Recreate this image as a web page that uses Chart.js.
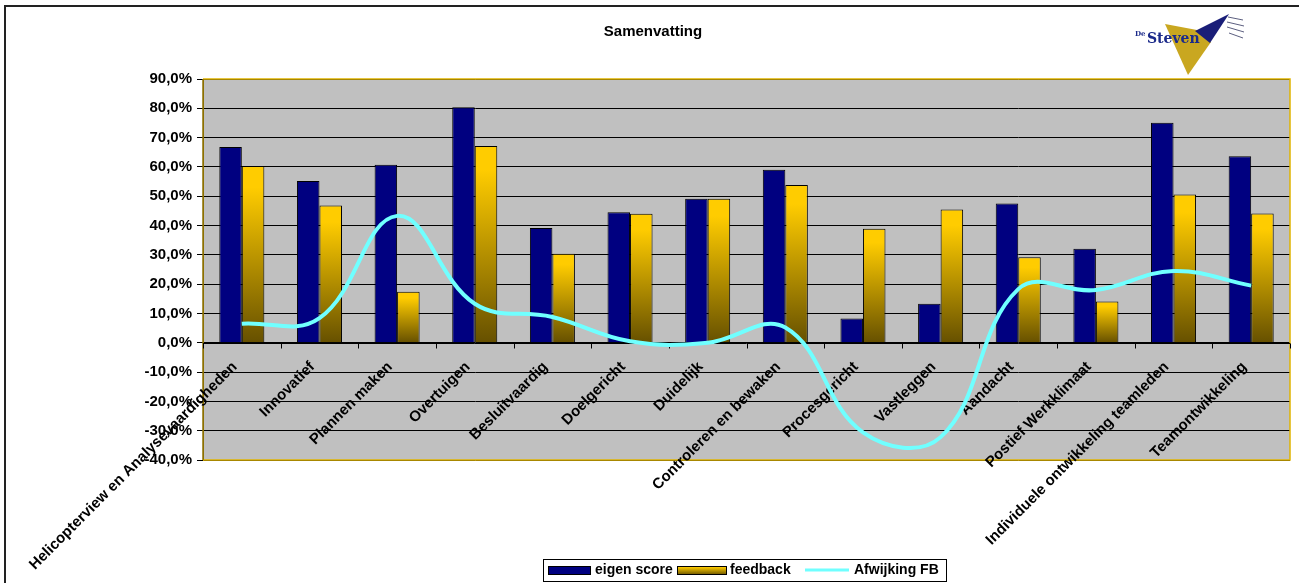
<!DOCTYPE html>
<html>
<head>
<meta charset="utf-8">
<title>Samenvatting</title>
<script src="https://cdn.jsdelivr.net/npm/chart.js@4/dist/chart.umd.min.js"></script>
<style>
  html, body { margin: 0; padding: 0; background: #fff; }
  canvas { display: block; }
</style>
</head>
<body>
<canvas id="chart" width="1299" height="583"></canvas>
<script>
"use strict";

// ---- data (percentages) ----
const categories = [
  "Helicopterview en Analysevaardigheden",
  "Innovatief",
  "Plannen maken",
  "Overtuigen",
  "Besluitvaardig",
  "Doelgericht",
  "Duidelijk",
  "Controleren en bewaken",
  "Procesgericht",
  "Vastleggen",
  "Aandacht",
  "Postief Werkklimaat",
  "Individuele ontwikkeling teamleden",
  "Teamontwikkeling",
];
const eigenScore = [66.8, 55.2, 60.7, 80.4, 39.2, 44.5, 49.1, 59.0, 8.3, 13.3, 47.5, 32.1, 75.1, 63.6];
const feedback   = [60.3, 46.8, 17.4, 67.1, 30.4, 44.0, 49.1, 53.8, 38.9, 45.5, 29.2, 14.1, 50.6, 44.1];
const afwijking  = [6.5, 8.4, 43.3, 13.3, 8.8, 0.5, 0.0, 5.2, -30.6, -32.2, 18.3, 18.0, 24.5, 19.5];

const seriesNames = ["eigen score", "feedback", "Afwijking FB"];
const Y_MIN = -40;
const Y_MAX = 90;
const Y_STEP = 10;

// ---- styling ----
const FONT = "'Liberation Sans', Arial, sans-serif";
const NAVY = "#000080";
const CYAN = "#70FFFF";
const PLOT_BG = "#C0C0C0";
const GOLD_EDGE = "#E0B400";
const OLIVE_EDGE = "#8C7000";

const fmtPct = (v) => v.toFixed(1).replace(".", ",") + "%";

function goldGradient(ctx, top, bottom) {
  if (!Number.isFinite(top) || !Number.isFinite(bottom) || top === bottom) return "#FFCC00";
  const g = ctx.createLinearGradient(0, top, 0, bottom);
  g.addColorStop(0, "#FFCC00");
  g.addColorStop(0.12, "#FFCC00");
  g.addColorStop(1, "#665000");
  return g;
}

// background, frame, title, plot fill
const backdrop = {
  id: "backdrop",
  beforeDraw(chart) {
    const { ctx, chartArea: a } = chart;
    ctx.save();
    ctx.fillStyle = "#fff";
    ctx.fillRect(0, 0, chart.width, chart.height);
    ctx.strokeStyle = "#222";
    ctx.lineWidth = 2;
    ctx.strokeRect(5, 6, chart.width + 20, chart.height + 20);

    ctx.fillStyle = "#000";
    ctx.font = `bold 15px ${FONT}`;
    ctx.textAlign = "center";
    ctx.textBaseline = "middle";
    ctx.fillText("Samenvatting", 653, 32);

    ctx.fillStyle = PLOT_BG;
    ctx.fillRect(a.left, a.top, a.width, a.height);
    ctx.restore();
  },
};

// plot border, category ticks on the 0 line, rotated category labels
const axisDecor = {
  id: "axisDecor",
  beforeDatasetsDraw(chart) {
    const { ctx, chartArea: a } = chart;
    const xs = chart.scales.x;
    const ys = chart.scales.y;
    const y0 = Math.round(ys.getPixelForValue(0)) + 0.5;
    ctx.save();

    ctx.lineWidth = 1.5;
    ctx.strokeStyle = GOLD_EDGE;
    ctx.beginPath();
    ctx.moveTo(a.left, a.top);
    ctx.lineTo(a.right, a.top);
    ctx.lineTo(a.right, a.bottom);
    ctx.lineTo(a.left, a.bottom);
    ctx.stroke();
    ctx.strokeStyle = OLIVE_EDGE;
    ctx.beginPath();
    ctx.moveTo(a.left, a.top);
    ctx.lineTo(a.left, a.bottom);
    ctx.stroke();

    ctx.strokeStyle = "#000";
    ctx.lineWidth = 1;
    ctx.beginPath();
    ctx.moveTo(a.left, y0);
    ctx.lineTo(a.right, y0);
    for (let i = 0; i <= categories.length; i++) {
      const x = Math.round(xs.getPixelForValue(i - 0.5)) + 0.5;
      ctx.moveTo(x, y0);
      ctx.lineTo(x, y0 + 5);
    }
    ctx.stroke();

    ctx.fillStyle = "#000";
    ctx.font = `bold 15px ${FONT}`;
    ctx.textAlign = "right";
    ctx.textBaseline = "middle";
    categories.forEach((label, i) => {
      const x = xs.getPixelForValue(i);
      ctx.save();
      ctx.translate(x - 7, y0 + 21);
      ctx.rotate(-Math.PI / 4);
      ctx.fillText(label, 0, 0);
      ctx.restore();
    });
    ctx.restore();
  },
};

function drawLogo(ctx) {
  ctx.save();
  ctx.fillStyle = "#C9A720";
  ctx.beginPath();
  ctx.moveTo(1165, 24);
  ctx.lineTo(1197, 30);
  ctx.lineTo(1211, 42);
  ctx.lineTo(1188, 75);
  ctx.closePath();
  ctx.fill();

  ctx.fillStyle = "#1A1E78";
  ctx.beginPath();
  ctx.moveTo(1195, 31);
  ctx.lineTo(1229, 14);
  ctx.lineTo(1210, 43);
  ctx.closePath();
  ctx.fill();

  ctx.strokeStyle = "#5C5F80";
  ctx.lineWidth = 1;
  [[1228, 17, 1243, 20], [1227, 22, 1244, 26], [1227, 27, 1244, 32], [1229, 33, 1243, 38]].forEach(([x1, y1, x2, y2]) => {
    ctx.beginPath();
    ctx.moveTo(x1, y1);
    ctx.lineTo(x2, y2);
    ctx.stroke();
  });

  ctx.fillStyle = "#1B2A8A";
  ctx.textAlign = "left";
  ctx.textBaseline = "alphabetic";
  ctx.font = "bold 14px 'DejaVu Serif'";
  ctx.fillText("Steven", 1147, 43);
  ctx.font = "bold 7px 'DejaVu Serif'";
  ctx.fillText("De", 1135, 36);
  ctx.restore();
}

// legend box at the bottom + logo
const legendBox = {
  id: "legendBox",
  afterDraw(chart) {
    const ctx = chart.ctx;
    ctx.save();
    ctx.fillStyle = "#fff";
    ctx.fillRect(543.5, 559.5, 403, 22);
    ctx.strokeStyle = "#000";
    ctx.lineWidth = 1;
    ctx.strokeRect(543.5, 559.5, 403, 22);

    const my = 570;
    ctx.font = `bold 14px ${FONT}`;
    ctx.textAlign = "left";
    ctx.textBaseline = "middle";

    ctx.fillStyle = NAVY;
    ctx.fillRect(548.5, 566.5, 42, 8);
    ctx.strokeRect(548.5, 566.5, 42, 8);
    ctx.fillStyle = "#000";
    ctx.fillText(seriesNames[0], 595, my);

    ctx.fillStyle = goldGradient(ctx, 566, 575);
    ctx.fillRect(677.5, 566.5, 49, 8);
    ctx.strokeRect(677.5, 566.5, 49, 8);
    ctx.fillStyle = "#000";
    ctx.fillText(seriesNames[1], 730, my);

    ctx.strokeStyle = CYAN;
    ctx.lineWidth = 3;
    ctx.beginPath();
    ctx.moveTo(805, my);
    ctx.lineTo(849, my);
    ctx.stroke();
    ctx.fillStyle = "#000";
    ctx.fillText(seriesNames[2], 854, my);
    ctx.restore();

    drawLogo(ctx);
  },
};

new Chart(document.getElementById("chart"), {
  type: "bar",
  data: {
    labels: categories,
    datasets: [
      {
        label: seriesNames[0],
        data: eigenScore,
        backgroundColor: NAVY,
        borderColor: "#000",
        borderWidth: 1,
        categoryPercentage: 0.58,
        barPercentage: 1,
        order: 1,
      },
      {
        label: seriesNames[1],
        data: feedback,
        backgroundColor(c) {
          if (c.type !== "data" || !c.chart.scales.y) return "#FFCC00";
          const ys = c.chart.scales.y;
          return goldGradient(c.chart.ctx, ys.getPixelForValue(c.raw), ys.getPixelForValue(0));
        },
        borderColor: "#000",
        borderWidth: 1,
        categoryPercentage: 0.58,
        barPercentage: 1,
        order: 1,
      },
      {
        type: "line",
        label: seriesNames[2],
        data: afwijking,
        borderColor: CYAN,
        borderWidth: 4,
        pointRadius: 0,
        tension: 0.4,
        fill: false,
        order: 0,
      },
    ],
  },
  options: {
    responsive: false,
    animation: false,
    devicePixelRatio: 1,
    layout: { padding: { left: 0, right: 9, top: 79, bottom: 123 } },
    plugins: {
      legend: { display: false },
      title: { display: false },
      tooltip: { enabled: false },
    },
    scales: {
      x: { display: false, offset: true },
      y: {
        min: Y_MIN,
        max: Y_MAX,
        ticks: {
          stepSize: Y_STEP,
          color: "#000",
          padding: 5,
          font: { family: FONT, size: 15, weight: "bold" },
          callback: (v) => fmtPct(v),
        },
        grid: { color: "#000", lineWidth: 1, tickLength: 6, tickColor: "#000" },
        border: { color: OLIVE_EDGE, width: 1 },
        afterFit(scale) { scale.width = 203; },
      },
    },
  },
  plugins: [backdrop, axisDecor, legendBox],
});
</script>
</body>
</html>
